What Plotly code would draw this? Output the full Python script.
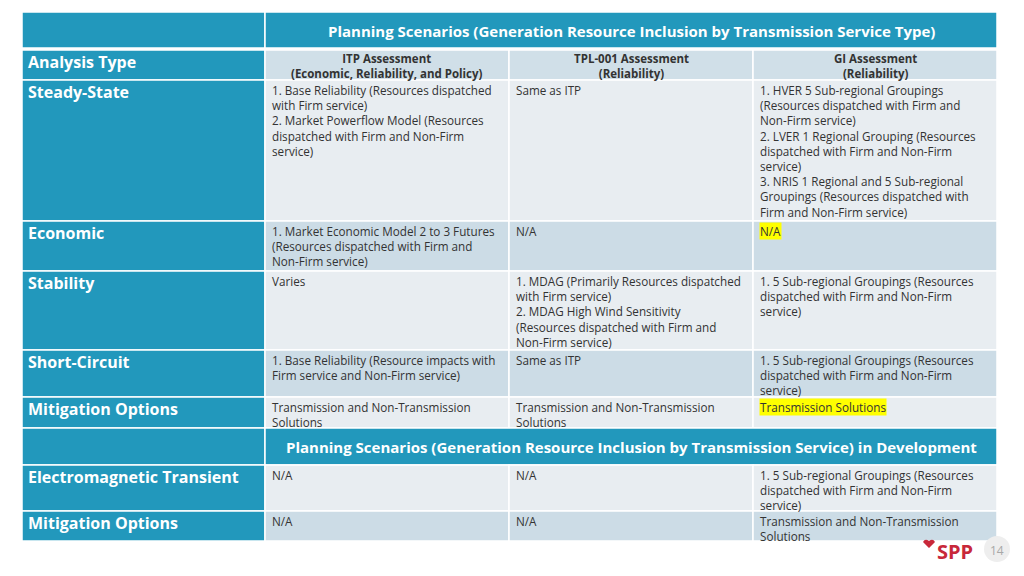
import plotly.graph_objects as go

# ---------------- data ----------------
title_top = "Planning Scenarios (Generation Resource Inclusion by Transmission Service Type)"
title_dev = "Planning Scenarios (Generation Resource Inclusion by Transmission Service) in Development"
corner_label = "Analysis Type"
col_headers = [
    "ITP Assessment<br>(Economic, Reliability, and Policy)",
    "TPL-001 Assessment<br>(Reliability)",
    "GI Assessment<br>(Reliability)",
]
row_labels = ["Steady-State", "Economic", "Stability", "Short-Circuit", "Mitigation Options"]
cells = [
    ["1. Base Reliability (Resources dispatched<br>with Firm service)<br>2. Market Powerflow Model (Resources<br>dispatched with Firm and Non-Firm<br>service)",
     "Same as ITP",
     "1. HVER 5 Sub-regional Groupings<br>(Resources dispatched with Firm and<br>Non-Firm service)<br>2. LVER 1 Regional Grouping (Resources<br>dispatched with Firm and Non-Firm<br>service)<br>3. NRIS 1 Regional and 5 Sub-regional<br>Groupings (Resources dispatched with<br>Firm and Non-Firm service)"],
    ["1. Market Economic Model 2 to 3 Futures<br>(Resources dispatched with Firm and<br>Non-Firm service)",
     "N/A",
     "N/A"],
    ["Varies",
     "1. MDAG (Primarily Resources dispatched<br>with Firm service)<br>2. MDAG High Wind Sensitivity<br>(Resources dispatched with Firm and<br>Non-Firm service)",
     "1. 5 Sub-regional Groupings (Resources<br>dispatched with Firm and Non-Firm<br>service)"],
    ["1. Base Reliability (Resource impacts with<br>Firm service and Non-Firm service)",
     "Same as ITP",
     "1. 5 Sub-regional Groupings (Resources<br>dispatched with Firm and Non-Firm<br>service)"],
    ["Transmission and Non-Transmission<br>Solutions",
     "Transmission and Non-Transmission<br>Solutions",
     "Transmission Solutions"],
]
highlight = [
    [False, False, False],
    [False, False, True],
    [False, False, False],
    [False, False, False],
    [False, False, True],
]
dev_row_labels = ["Electromagnetic Transient", "Mitigation Options"]
dev_cells = [
    ["N/A", "N/A", "1. 5 Sub-regional Groupings (Resources<br>dispatched with Firm and Non-Firm<br>service)"],
    ["N/A", "N/A", "Transmission and Non-Transmission<br>Solutions"],
]
page_number = "14"
logo_text = "SPP"

# ---------------- layout / style ----------------
TEAL = "#2298BC"
LIGHT = "#E8EDF1"
DARK = "#CCDCE6"
HEAD = "#D0DFE8"
TXT = "#333333"
FONT = "Open Sans"

col_edges = [22, 265, 509, 753, 997]
title_band = (12, 48)
head_row = (50, 80)
main_rows = [(80, 221), (221, 271), (271, 350), (350, 397), (397, 428)]
dev_band = (428, 465)
dev_rows = [(465, 511), (511, 541)]
main_fill = [LIGHT, DARK, LIGHT, DARK, LIGHT]
dev_fill = [LIGHT, DARK]

shapes = []
annotations = []


def rect(x0, x1, y0, y1, fill, lw=1.5):
    shapes.append(dict(type="rect", xref="x", yref="y", x0=x0, x1=x1, y0=y0, y1=y1,
                       fillcolor=fill, line=dict(color="white", width=lw), layer="below"))


def text(x, y, s, size, color=TXT, bold=False, xanchor="left", align="left", bg=None):
    annotations.append(dict(x=x, y=y, xref="x", yref="y", text=("<b>%s</b>" % s) if bold else s,
                            showarrow=False, xanchor=xanchor, yanchor="top", align=align,
                            font=dict(family=FONT, size=size, color=color),
                            bgcolor=bg, borderpad=0))


# title band
rect(col_edges[0], col_edges[1], *title_band, TEAL)
rect(col_edges[1], col_edges[4], *title_band, TEAL)
text((col_edges[1] + col_edges[4]) / 2, title_band[0] + 8, title_top, 15, "white", True, "center", "center")

# header row
rect(col_edges[0], col_edges[1], *head_row, TEAL)
text(col_edges[0] + 5, head_row[0], corner_label, 16, "white", True)
for j, h in enumerate(col_headers):
    rect(col_edges[j + 1], col_edges[j + 2], *head_row, HEAD)
    text((col_edges[j + 1] + col_edges[j + 2]) / 2, head_row[0], h, 11.5, TXT, True, "center", "center")

# main rows
for i, (lab, (y0, y1)) in enumerate(zip(row_labels, main_rows)):
    rect(col_edges[0], col_edges[1], y0, y1, TEAL)
    text(col_edges[0] + 5, y0, lab, 16, "white", True)
    for j in range(3):
        rect(col_edges[j + 1], col_edges[j + 2], y0, y1, main_fill[i])
        text(col_edges[j + 1] + 6, y0 + 0.5, cells[i][j], 11.7,
             bg="#FFFF00" if highlight[i][j] else None)

# development band
rect(col_edges[0], col_edges[1], *dev_band, TEAL)
rect(col_edges[1], col_edges[4], *dev_band, TEAL)
text((col_edges[1] + col_edges[4]) / 2, dev_band[0] + 8, title_dev, 15, "white", True, "center", "center")

for i, (lab, (y0, y1)) in enumerate(zip(dev_row_labels, dev_rows)):
    rect(col_edges[0], col_edges[1], y0, y1, TEAL)
    text(col_edges[0] + 5, y0, lab, 16, "white", True)
    for j in range(3):
        rect(col_edges[j + 1], col_edges[j + 2], y0, y1, dev_fill[i])
        text(col_edges[j + 1] + 6, y0 + 0.5, dev_cells[i][j], 11.7)

# logo and page number
shapes.append(dict(type="circle", xref="x", yref="y", x0=984, x1=1010, y0=536, y1=562,
                   fillcolor="#EEEEEE", line=dict(width=0), layer="below"))
shapes.append(dict(type="path", xref="x", yref="y",
                   path="M 929 548 L 923 542 Q 925 538 929 541 Q 933 538 935 542 Z",
                   fillcolor="#C8283A", line=dict(width=0), layer="below"))
text(997, 541, page_number, 12, "#A8A8A8", False, "center", "center")
text(955, 537, logo_text, 20, "#C8283A", True, "center", "center")

# page body has an 8px margin: shift the figure so coordinates equal window pixels
fig = go.Figure()
fig.update_layout(
    width=1016, height=568,
    margin=dict(l=0, r=0, t=0, b=0),
    paper_bgcolor="white", plot_bgcolor="white",
    xaxis=dict(range=[8, 1024], visible=False, fixedrange=True),
    yaxis=dict(range=[576, 8], visible=False, fixedrange=True),
    shapes=shapes, annotations=annotations, showlegend=False,
)
fig.write_html("out.html")
